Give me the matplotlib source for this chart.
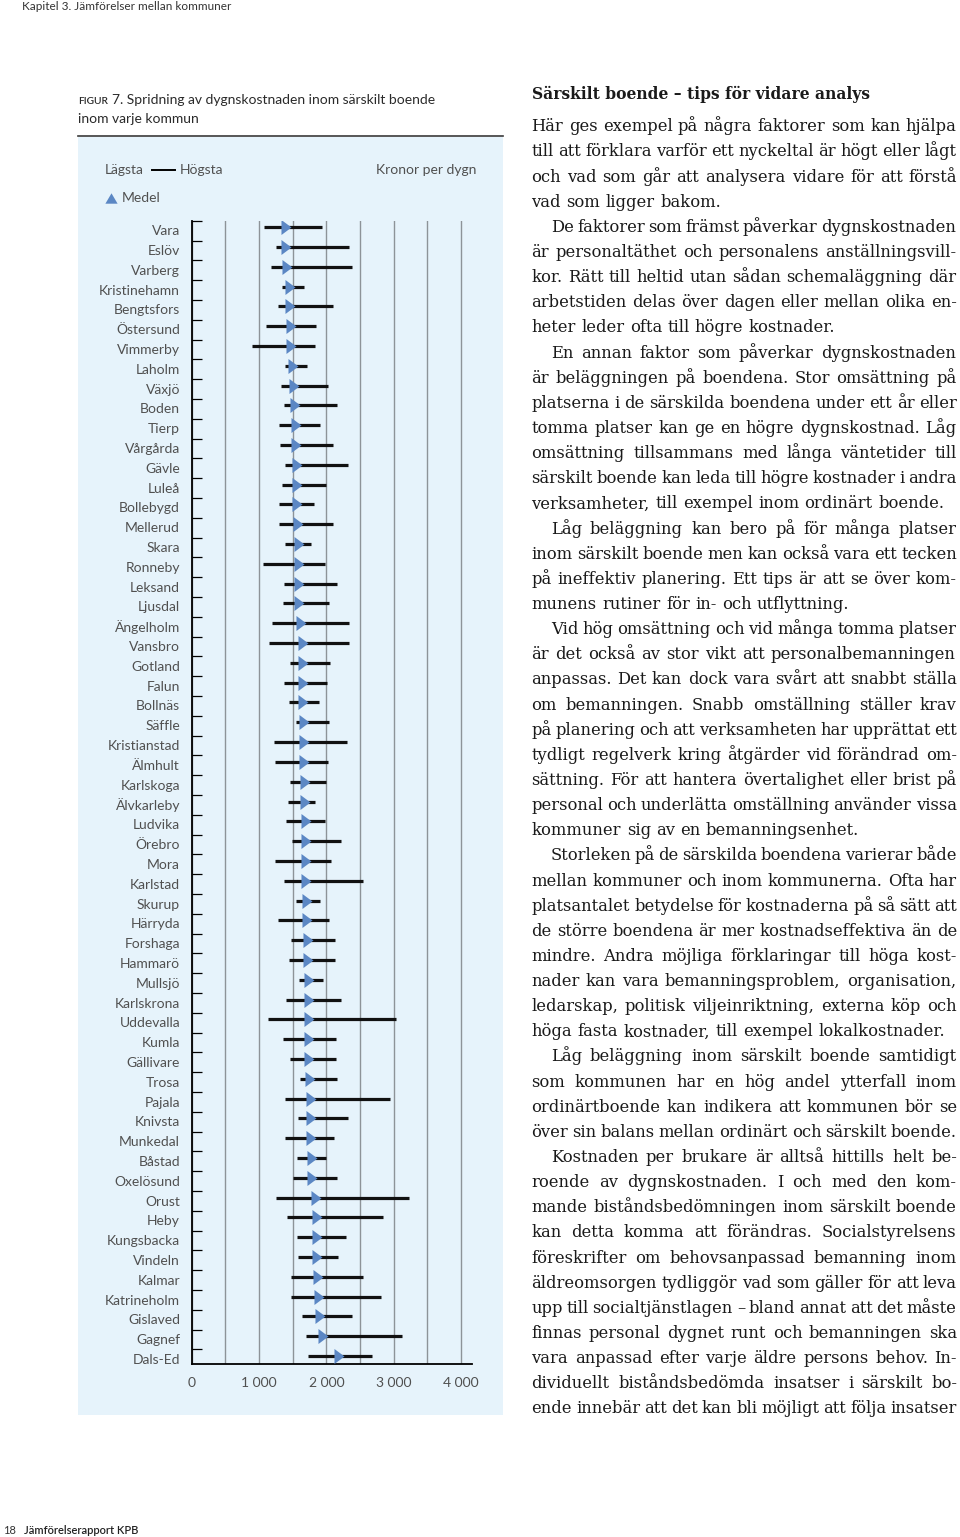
import matplotlib
matplotlib.use("Agg")
import matplotlib.pyplot as plt
from matplotlib.lines import Line2D
from matplotlib.patches import Rectangle
from matplotlib.transforms import ScaledTranslation
import numpy as np

W, H = 960, 1537

# --- chart data (kronor per dygn) ---
kommuner = ["Vara", "Eslöv", "Varberg", "Kristinehamn", "Bengtsfors", "Östersund",
            "Vimmerby", "Laholm", "Växjö", "Boden", "Tierp", "Vårgårda", "Gävle",
            "Luleå", "Bollebygd", "Mellerud", "Skara", "Ronneby", "Leksand", "Ljusdal",
            "Ängelholm", "Vansbro", "Gotland", "Falun", "Bollnäs", "Säffle",
            "Kristianstad", "Älmhult", "Karlskoga", "Älvkarleby", "Ludvika", "Örebro",
            "Mora", "Karlstad", "Skurup", "Härryda", "Forshaga", "Hammarö", "Mullsjö",
            "Karlskrona", "Uddevalla", "Kumla", "Gällivare", "Trosa", "Pajala",
            "Knivsta", "Munkedal", "Båstad", "Oxelösund", "Orust", "Heby",
            "Kungsbacka", "Vindeln", "Kalmar", "Katrineholm", "Gislaved", "Gagnef",
            "Dals-Ed"]
lagsta = [1068, 1251, 1171, 1340, 1285, 1102, 900, 1379, 1330, 1369, 1295, 1315,
          1389, 1344, 1295, 1300, 1384, 1058, 1369, 1354, 1196, 1152, 1463, 1369,
          1448, 1547, 1226, 1236, 1463, 1428, 1399, 1493, 1236, 1364, 1547, 1280,
          1478, 1448, 1592, 1399, 1127, 1354, 1458, 1606, 1384, 1572, 1384, 1557,
          1508, 1246, 1409, 1557, 1572, 1478, 1468, 1636, 1695, 1730]
hogsta = [1938, 2338, 2387, 1666, 2091, 1849, 1829, 1705, 2027, 2155, 1898, 2091,
          2318, 1992, 1809, 2091, 1779, 1982, 2160, 2046, 2333, 2338, 2061, 2007,
          1888, 2046, 2303, 2017, 1987, 1824, 1982, 2214, 2066, 2551, 1908, 2032,
          2126, 2135, 1943, 2224, 3035, 2150, 2150, 2155, 2946, 2328, 2111, 1997,
          2165, 3228, 2837, 2284, 2175, 2551, 2813, 2378, 3119, 2684]
medel = [1404, 1404, 1409, 1458, 1458, 1468, 1473, 1508, 1522, 1532, 1547, 1547,
         1557, 1557, 1567, 1582, 1587, 1587, 1597, 1597, 1616, 1646, 1646, 1646,
         1656, 1666, 1666, 1671, 1676, 1686, 1695, 1695, 1695, 1700, 1705, 1705,
         1720, 1725, 1735, 1735, 1735, 1745, 1745, 1755, 1765, 1775, 1775, 1789,
         1789, 1849, 1854, 1859, 1868, 1873, 1888, 1898, 1948, 2185]

x_ticks = [0, 1000, 2000, 3000, 4000]
x_ticklabels = ["0", "1 000", "2 000", "3 000", "4 000"]

# --- right column text: (line, indent, last line of paragraph) ---
rubrik = "Särskilt boende – tips för vidare analys"
brodtext = [
    ("Här ges exempel på några faktorer som kan hjälpa", False, False),
    ("till att förklara varför ett nyckeltal är högt eller lågt", False, False),
    ("och vad som går att analysera vidare för att förstå", False, False),
    ("vad som ligger bakom.", False, True),
    ("De faktorer som främst påverkar dygnskostnaden", True, False),
    ("är personaltäthet och personalens anställningsvill-", False, False),
    ("kor. Rätt till heltid utan sådan schemaläggning där", False, False),
    ("arbetstiden delas över dagen eller mellan olika en-", False, False),
    ("heter leder ofta till högre kostnader.", False, True),
    ("En annan faktor som påverkar dygnskostnaden", True, False),
    ("är beläggningen på boendena. Stor omsättning på", False, False),
    ("platserna i de särskilda boendena under ett år eller", False, False),
    ("tomma platser kan ge en högre dygnskostnad. Låg", False, False),
    ("omsättning tillsammans med långa väntetider till", False, False),
    ("särskilt boende kan leda till högre kostnader i andra", False, False),
    ("verksamheter, till exempel inom ordinärt boende.", False, True),
    ("Låg beläggning kan bero på för många platser", True, False),
    ("inom särskilt boende men kan också vara ett tecken", False, False),
    ("på ineffektiv planering. Ett tips är att se över kom-", False, False),
    ("munens rutiner för in- och utflyttning.", False, True),
    ("Vid hög omsättning och vid många tomma platser", True, False),
    ("är det också av stor vikt att personalbemanningen", False, False),
    ("anpassas. Det kan dock vara svårt att snabbt ställa", False, False),
    ("om bemanningen. Snabb omställning ställer krav", False, False),
    ("på planering och att verksamheten har upprättat ett", False, False),
    ("tydligt regelverk kring åtgärder vid förändrad om-", False, False),
    ("sättning. För att hantera övertalighet eller brist på", False, False),
    ("personal och underlätta omställning använder vissa", False, False),
    ("kommuner sig av en bemanningsenhet.", False, True),
    ("Storleken på de särskilda boendena varierar både", True, False),
    ("mellan kommuner och inom kommunerna. Ofta har", False, False),
    ("platsantalet betydelse för kostnaderna på så sätt att", False, False),
    ("de större boendena är mer kostnadseffektiva än de", False, False),
    ("mindre. Andra möjliga förklaringar till höga kost-", False, False),
    ("nader kan vara bemanningsproblem, organisation,", False, False),
    ("ledarskap, politisk viljeinriktning, externa köp och", False, False),
    ("höga fasta kostnader, till exempel lokalkostnader.", False, True),
    ("Låg beläggning inom särskilt boende samtidigt", True, False),
    ("som kommunen har en hög andel ytterfall inom", False, False),
    ("ordinärtboende kan indikera att kommunen bör se", False, False),
    ("över sin balans mellan ordinärt och särskilt boende.", False, True),
    ("Kostnaden per brukare är alltså hittills helt be-", True, False),
    ("roende av dygnskostnaden. I och med den kom-", False, False),
    ("mande biståndsbedömningen inom särskilt boende", False, False),
    ("kan detta komma att förändras. Socialstyrelsens", False, False),
    ("föreskrifter om behovsanpassad bemanning inom", False, False),
    ("äldreomsorgen tydliggör vad som gäller för att leva", False, False),
    ("upp till socialtjänstlagen – bland annat att det måste", False, False),
    ("finnas personal dygnet runt och bemanningen ska", False, False),
    ("vara anpassad efter varje äldre persons behov. In-", False, False),
    ("dividuellt biståndsbedömda insatser i särskilt bo-", False, False),
    ("ende innebär att det kan bli möjligt att följa insatser", False, False),
]

BLUE = "#5b87c4"
PANEL = "#e6f3fb"
GREY = "#505050"
SANS = ["Lato", "DejaVu Sans"]
SERIF = ["DejaVu Serif"]


def fx(x):
    return x / W


def fy(y):
    return 1 - y / H


fig = plt.figure(figsize=(W / 100, H / 100), dpi=100)
fig.patch.set_facecolor("white")
renderer = fig.canvas.get_renderer()

# page header / footer
fig.text(fx(22), fy(7), "Kapitel 3. Jämförelser mellan kommuner", family=SANS,
         fontsize=8.5, color="#333333", va="center")
fig.text(fx(3), fy(1530), "18", family=SANS, fontsize=8, color="#333333", va="center")
fig.text(fx(24), fy(1530), "Jämförelserapport KPB", family=SANS, fontsize=8,
         fontweight="semibold", color="#222222", va="center")

# figure title
fig.text(fx(78), fy(101), "FIGUR", family=SANS, fontsize=7.4, fontweight="semibold",
         color="#2a2a2a", va="center")
fig.text(fx(112), fy(100), "7. Spridning av dygnskostnaden inom särskilt boende",
         family=SANS, fontsize=10, color="#2a2a2a", va="center")
fig.text(fx(78), fy(119), "inom varje kommun", family=SANS, fontsize=10,
         color="#2a2a2a", va="center")
fig.add_artist(Line2D([fx(78), fx(503)], [fy(136), fy(136)], color="#3a3a3a", lw=1.2))

# light blue panel
fig.add_artist(Rectangle((fx(78), fy(1415)), (503 - 78) / W, (1415 - 137) / H,
                         transform=fig.transFigure, facecolor=PANEL, edgecolor="none",
                         zorder=0))

# legend
fig.text(fx(105), fy(170), "Lägsta", family=SANS, fontsize=10, color=GREY, va="center")
fig.add_artist(Line2D([fx(152), fx(175)], [fy(170), fy(170)], color="black", lw=1.4))
fig.text(fx(180), fy(170), "Högsta", family=SANS, fontsize=10, color=GREY, va="center")
fig.text(fx(476), fy(170), "Kronor per dygn", family=SANS, fontsize=10, color=GREY,
         va="center", ha="right")
fig.add_artist(Line2D([fx(111)], [fy(198)], transform=fig.transFigure, ls="none",
                      marker=[(-1, -0.85), (1, -0.85), (0, 0.85)], ms=8.8,
                      color=BLUE, mew=0))
fig.text(fx(122), fy(198), "Medel", family=SANS, fontsize=10, color=GREY, va="center")

# chart
ax = fig.add_axes([fx(191.7), fy(1364.3), (471.7 - 191.7) / W, (1364.3 - 220.7) / H])
ax.set_facecolor("none")
rows = np.arange(len(kommuner))
ax.set_xlim(0, 4158)
ax.set_ylim(len(kommuner) - 1 + 0.42, -0.33)

ax.set_xticks(x_ticks)
ax.set_xticklabels(x_ticklabels)
ax.set_xticks(np.arange(500, 4001, 1000), minor=True)
ax.xaxis.grid(True, which="both", color="#8d9398", lw=1.0)
ax.set_axisbelow(True)
ax.tick_params(axis="x", which="both", length=0, pad=9, labelsize=10, labelcolor=GREY)

ax.set_yticks(rows)
ax.set_yticklabels(kommuner)
ax.set_yticks(rows - 0.33, minor=True)
ax.tick_params(axis="y", which="major", length=0, pad=8.4, labelsize=10, labelcolor=GREY)
ax.tick_params(axis="y", which="minor", length=7.2, width=0.9, direction="in",
               color="black")
off = ScaledTranslation(0, -3 / 100, fig.dpi_scale_trans)
for lab in ax.get_yticklabels() + ax.get_xticklabels():
    lab.set_family(SANS)
for lab in ax.get_yticklabels():
    lab.set_transform(lab.get_transform() + off)

for side in ["top", "right"]:
    ax.spines[side].set_visible(False)
for side in ["left", "bottom"]:
    ax.spines[side].set_color("black")
    ax.spines[side].set_linewidth(1.3)

ax.hlines(rows, lagsta, hogsta, color="#111111", lw=2.3, zorder=3)
ax.plot(medel, rows, ls="none", marker=[(-0.67, -1), (0.67, 0), (-0.67, 1)],
        ms=10.8, color=BLUE, mew=0, zorder=4)

# right column, justified text
X0, X1 = 531.5, 957.0
INDENT = 19.5


def text_width(s, size, weight="normal"):
    t = fig.text(0, 0, s, family=SERIF, fontsize=size, fontweight=weight)
    w = t.get_window_extent(renderer).width
    t.remove()
    return w


ref_size = 10.0
space_ref = text_width("a a", ref_size) - text_width("aa", ref_size)
word_ref = {}
natural = []
for line, indent, last in brodtext:
    ws = [text_width(w, ref_size) for w in line.split()]
    word_ref[line] = ws
    avail = (X1 - X0) - (INDENT if indent else 0)
    natural.append((sum(ws) + 0.6 * space_ref * (len(ws) - 1)) / avail)
body_size = min(12.0, ref_size / max(natural))

fig.text(fx(X0), fy(98.7), rubrik, family=SERIF, fontsize=body_size * 0.95,
         fontweight="bold", color="#1a1a1a", va="baseline")

for i, (line, indent, last) in enumerate(brodtext):
    words = line.split()
    scale = body_size / ref_size
    widths = [w * scale for w in word_ref[line]]
    start = X0 + (INDENT if indent else 0)
    gap = space_ref * scale
    if len(words) > 1:
        fill = (X1 - start - sum(widths)) / (len(words) - 1)
        gap = min(gap, fill) if last else fill
    x = start
    yb = 131.3 + 25.14 * i
    for w, wd in zip(words, widths):
        fig.text(fx(x), fy(yb), w, family=SERIF, fontsize=body_size, color="#1a1a1a",
                 va="baseline")
        x += wd + gap

fig.savefig("out.png", dpi=100)
